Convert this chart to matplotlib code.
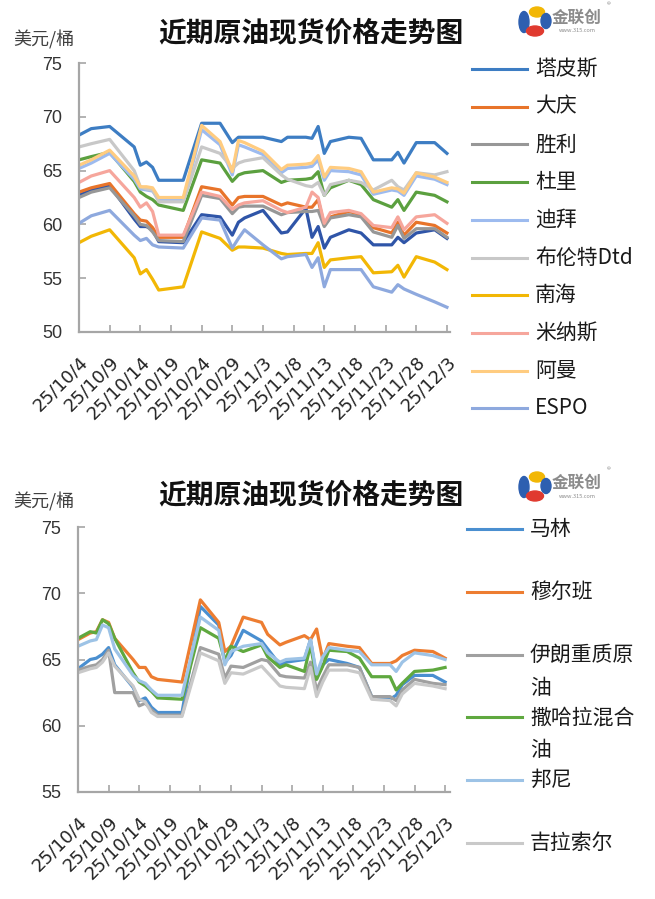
import matplotlib
matplotlib.use("Agg")
import matplotlib.pyplot as plt
from matplotlib.lines import Line2D
from matplotlib.patches import Ellipse
import pandas as pd

plt.rcParams['font.family'] = ['Noto Sans CJK SC', 'DejaVu Sans']

W, H = 655, 899
START = pd.Timestamp('2025-10-04')
TITLE = '近期原油现货价格走势图'
UNIT = '美元/桶'

# ---------------- top panel data ----------------
top_dates = ['2025-10-04', '2025-10-06', '2025-10-09', '2025-10-13', '2025-10-14',
             '2025-10-15', '2025-10-16', '2025-10-17', '2025-10-21', '2025-10-24',
             '2025-10-27', '2025-10-29', '2025-10-30', '2025-10-31', '2025-11-03',
             '2025-11-06', '2025-11-07', '2025-11-10', '2025-11-11', '2025-11-12',
             '2025-11-13', '2025-11-14', '2025-11-17', '2025-11-19', '2025-11-21',
             '2025-11-24', '2025-11-25', '2025-11-26', '2025-11-28', '2025-12-01',
             '2025-12-03']

tapis = [68.3, 68.9, 69.1, 67.2, 65.5, 65.8, 65.3, 64.1, 64.1, 69.4,
         69.4, 67.6, 68.1, 68.1, 68.1, 67.7, 68.1, 68.1, 68.0, 69.1,
         66.6, 67.7, 68.1, 68.0, 66.0, 66.0, 66.7, 65.7, 67.6, 67.6, 66.6]
daqing = [63.0, 63.4, 63.8, 61.0, 60.4, 60.3, 59.7, 58.8, 58.8, 63.5,
          63.2, 61.8, 62.5, 62.6, 62.6, 61.8, 62.0, 61.6, 61.6, 62.3,
          59.9, 60.7, 61.2, 60.9, 59.7, 59.2, 60.2, 59.0, 60.2, 59.9, 59.2]
shengli = [62.5, 63.0, 63.4, 60.8, 60.0, 59.9, 59.3, 58.5, 58.4, 62.7,
           62.4, 61.0, 61.6, 61.7, 61.7, 60.9, 61.1, 61.2, 61.2, 61.3,
           59.8, 60.6, 60.9, 60.7, 59.3, 58.8, 59.9, 58.7, 59.6, 59.6, 58.8]
duri = [66.0, 66.3, 66.7, 64.0, 63.0, 62.6, 62.3, 61.8, 61.3, 66.0,
        65.7, 64.0, 64.6, 64.8, 65.0, 63.9, 64.1, 64.2, 64.3, 64.9,
        62.7, 63.4, 64.1, 63.7, 62.3, 61.6, 62.3, 61.3, 63.0, 62.7, 62.1]
dubai = [65.2, 65.7, 66.6, 64.2, 63.3, 63.2, 63.1, 62.3, 62.3, 68.8,
         67.4, 64.6, 67.4, 67.2, 66.5, 64.8, 65.2, 65.3, 65.4, 66.0,
         64.1, 65.0, 64.9, 64.6, 62.8, 63.2, 63.1, 62.7, 64.5, 64.2, 63.7]
brent = [67.2, 67.5, 67.9, 65.0, 63.5, 63.3, 63.2, 62.1, 62.1, 67.2,
         66.6, 65.2, 65.7, 65.9, 66.2, 64.6, 64.2, 63.6, 63.5, 63.9,
         62.7, 63.7, 64.1, 63.9, 63.2, 64.1, 63.5, 63.2, 64.8, 64.6, 64.9]
nanhai = [58.3, 58.9, 59.5, 56.9, 55.4, 55.8, 54.9, 53.9, 54.2, 59.3,
          58.7, 57.6, 57.9, 57.9, 57.8, 57.3, 57.2, 57.3, 57.3, 58.3,
          56.0, 56.7, 56.9, 57.0, 55.5, 55.6, 56.2, 55.1, 57.0, 56.5, 55.8]
minas = [63.9, 64.5, 65.0, 62.5, 61.6, 62.0, 61.2, 59.0, 59.0, 63.0,
         62.6, 61.4, 61.8, 62.0, 62.2, 61.3, 61.1, 61.6, 63.0, 62.5,
         60.1, 61.1, 61.3, 61.0, 59.9, 59.7, 60.7, 59.5, 60.7, 60.9, 60.1]
oman = [65.5, 66.0, 66.9, 64.5, 63.5, 63.5, 63.4, 62.5, 62.5, 69.2,
        67.7, 64.9, 67.8, 67.6, 66.8, 65.1, 65.5, 65.6, 65.7, 66.4,
        64.4, 65.3, 65.2, 64.9, 63.0, 63.4, 63.3, 62.9, 64.8, 64.4, 63.9]
espo = [60.1, 60.8, 61.3, 59.0, 58.5, 58.7, 58.1, 57.9, 57.8, 60.6,
        60.4, 57.8, 58.7, 59.5, 58.1, 56.8, 57.0, 57.2, 56.0, 56.9,
        54.2, 55.8, 55.8, 55.8, 54.2, 53.7, 54.4, 54.0, 53.5, 52.8, 52.3]
# dark blue line drawn in the chart without a legend entry
unlabeled_blue = [62.7, 63.2, 63.6, 60.5, 59.8, 59.8, 59.5, 58.4, 58.3, 60.9,
                  60.7, 59.0, 60.2, 60.6, 61.3, 59.2, 59.3, 61.5, 58.8, 59.8,
                  57.8, 58.8, 59.5, 59.2, 58.1, 58.1, 58.8, 58.3, 59.2, 59.5, 58.7]

top_names = ['塔皮斯', '大庆', '胜利', '杜里', '迪拜', '布伦特Dtd', '南海', '米纳斯', '阿曼', 'ESPO']
top_series = [tapis, daqing, shengli, duri, dubai, brent, nanhai, minas, oman, espo]
top_colors = ['#3D7DC3', '#E8742A', '#979797', '#5BA03F', '#9DBBEF',
              '#C8C8C8', '#F2B705', '#F6A69C', '#FFCC80', '#8EA9DE']

# ---------------- bottom panel data ----------------
bot_dates = ['2025-10-04', '2025-10-06', '2025-10-07', '2025-10-08', '2025-10-09',
             '2025-10-10', '2025-10-13', '2025-10-14', '2025-10-15', '2025-10-16',
             '2025-10-17', '2025-10-21', '2025-10-24', '2025-10-27', '2025-10-28',
             '2025-10-29', '2025-10-31', '2025-11-03', '2025-11-04', '2025-11-06',
             '2025-11-07', '2025-11-10', '2025-11-11', '2025-11-12', '2025-11-13',
             '2025-11-14', '2025-11-17', '2025-11-19', '2025-11-21', '2025-11-24',
             '2025-11-25', '2025-11-26', '2025-11-28', '2025-12-01', '2025-12-03']

marine = [64.3, 65.0, 65.1, 65.4, 65.9, 64.6, 62.9, 61.9, 62.1, 61.4,
          61.0, 61.0, 69.0, 67.6, 64.8, 65.3, 67.2, 66.4, 65.8, 64.6,
          64.8, 65.0, 66.5, 63.6, 64.6, 65.0, 64.7, 64.4, 62.2, 62.0,
          62.3, 63.1, 63.8, 63.8, 63.3]
murban = [66.5, 67.0, 67.1, 68.0, 67.8, 66.6, 65.0, 64.4, 64.4, 63.7,
          63.5, 63.3, 69.5, 67.8, 65.6, 66.0, 68.2, 67.8, 66.9, 66.1,
          66.3, 66.8, 66.5, 67.3, 65.0, 66.2, 66.0, 65.9, 64.7, 64.7,
          64.9, 65.3, 65.7, 65.6, 65.1]
iran_heavy = [64.2, 64.5, 64.6, 65.0, 65.7, 62.5, 62.5, 61.5, 61.7, 61.2,
              60.8, 60.8, 65.9, 65.4, 63.6, 64.5, 64.4, 65.0, 64.9, 63.8,
              63.7, 63.6, 64.8, 62.7, 63.7, 64.6, 64.6, 64.4, 62.2, 62.2,
              61.9, 62.7, 63.5, 63.2, 63.1]
sahara = [66.6, 67.1, 67.0, 68.0, 67.7, 66.6, 64.0, 63.3, 63.0, 62.6,
          62.1, 62.0, 67.4, 66.6, 64.9, 66.0, 65.6, 66.1, 65.2, 64.4,
          64.6, 64.1, 66.1, 63.5, 64.5, 65.7, 65.6, 65.1, 63.7, 63.7,
          62.7, 63.2, 64.1, 64.2, 64.4]
bonny = [66.0, 66.4, 66.5, 67.6, 67.4, 65.8, 63.8, 63.4, 63.2, 62.7,
         62.3, 62.3, 68.2, 67.2, 64.6, 65.6, 66.0, 66.2, 65.5, 64.8,
         65.0, 65.1, 66.5, 63.9, 65.2, 65.9, 65.7, 65.6, 64.6, 64.6,
         64.1, 64.8, 65.5, 65.3, 65.0]
girassol = [64.0, 64.3, 64.4, 64.8, 65.5, 64.5, 63.0, 62.0, 61.8, 61.0,
            60.7, 60.7, 65.5, 64.9, 63.2, 64.0, 63.9, 64.5, 64.0, 63.0,
            62.9, 62.8, 64.4, 62.2, 63.3, 64.2, 64.2, 64.0, 62.0, 61.9,
            61.5, 62.4, 63.2, 63.0, 62.8]

bot_names = ['马林', '穆尔班', '伊朗重质原油', '撒哈拉混合油', '邦尼', '吉拉索尔']
bot_series = [marine, murban, iran_heavy, sahara, bonny, girassol]
bot_colors = ['#4A8FD0', '#ED7D31', '#A0A0A0', '#5FA83F', '#9DC3E6', '#C9C9C9']

tick_dates = pd.date_range('2025-10-04', '2025-12-03', freq='5D')
tick_labels = [f'{d.year % 100}/{d.month}/{d.day}' for d in tick_dates]


def fx(px):
    return px / W


def fy(py):
    return 1 - py / H


def px_box(left, top, right, bottom):
    return [fx(left), fy(bottom), (right - left) / W, (bottom - top) / H]


def style_axes(ax, ymin, ymax, xmax_days):
    ax.set_ylim(ymin, ymax)
    ax.set_yticks(range(ymin, ymax + 1, 5))
    ax.set_xlim(START, START + pd.Timedelta(days=xmax_days))
    ax.set_xticks(tick_dates)
    ax.set_xticklabels(tick_labels, rotation=45, ha='right', va='top',
                       rotation_mode='anchor', fontsize=13,
                       family='DejaVu Sans', color='#222222')
    for lab in ax.get_yticklabels():
        lab.set_family('Liberation Sans')
        lab.set_color('#333333')
    for s in ['top', 'right']:
        ax.spines[s].set_visible(False)
    for s in ['left', 'bottom']:
        ax.spines[s].set_color('#A6A6A6')
        ax.spines[s].set_linewidth(1.6)
    ax.tick_params(direction='in', length=5, width=1.2, color='#A6A6A6')
    ax.tick_params(axis='y', pad=12, labelsize=13)
    ax.tick_params(axis='x', pad=15)


def draw_header(y_title, y_unit, y_logo):
    fig.text(fx(311), fy(y_title), TITLE, ha='center', va='center',
             fontsize=20, fontweight='bold', color='#111111')
    fig.text(fx(13), fy(y_unit), UNIT, ha='left', va='center',
             fontsize=13, color='#404040')
    # little company logo
    for cx, cy, w, h, col in [(524, y_logo + 1, 10, 21, '#2D5FB0'),
                              (537, y_logo - 9, 15, 10, '#F2B705'),
                              (535, y_logo + 10, 17, 10, '#E03A2F'),
                              (546, y_logo, 10, 15, '#2D5FB0')]:
        fig.patches.append(Ellipse((fx(cx), fy(cy)), w / W, h / H,
                                   transform=fig.transFigure, color=col))
    fig.text(fx(577), fy(y_logo - 3), '金联创', ha='center', va='center',
             fontsize=12, fontweight='bold', color='#8C8C8C')
    fig.text(fx(577), fy(y_logo + 10), 'www.315.com', ha='center', va='center',
             fontsize=4, color='#8C8C8C')
    fig.text(fx(609), fy(y_logo - 16), '®', ha='center', va='center',
             fontsize=5.5, color='#8C8C8C')


def draw_legend(names, colors, x0, x1, xt, y0, step, wrap=None):
    for i, (name, col) in enumerate(zip(names, colors)):
        y = y0 + i * step
        fig.add_artist(Line2D([fx(x0), fx(x1)], [fy(y), fy(y)],
                              transform=fig.transFigure, color=col, lw=2.2))
        if wrap and len(name) > wrap:
            parts = [name[:wrap], name[wrap:]]
        else:
            parts = [name]
        for k, part in enumerate(parts):
            fig.text(fx(xt), fy(y + k * 33), part, ha='left', va='center',
                     fontsize=15, color='#1A1A1A')


fig = plt.figure(figsize=(W / 100, H / 100), dpi=100)

ax1 = fig.add_axes(px_box(79, 63, 450, 332))
x_top = pd.to_datetime(top_dates)
for name, vals, col in zip(top_names, top_series, top_colors):
    ax1.plot(x_top, vals, color=col, lw=2.3, label=name)
    if name == '塔皮斯':
        ax1.plot(x_top, unlabeled_blue, color='#2F55A8', lw=2.3)
style_axes(ax1, 50, 75, 60.5)

ax2 = fig.add_axes(px_box(78, 527, 450, 792))
x_bot = pd.to_datetime(bot_dates)
for name, vals, col in zip(bot_names, bot_series, bot_colors):
    ax2.plot(x_bot, vals, color=col, lw=2.3, label=name)
style_axes(ax2, 55, 75, 60.8)

draw_header(33, 40, 21)
draw_header(495, 502, 486)
draw_legend(top_names, top_colors, 472, 527, 535, 69, 37.7)
draw_legend(bot_names, bot_colors, 467, 522, 530, 529, 62.8, wrap=5)

fig.savefig('out.png', dpi=100)
